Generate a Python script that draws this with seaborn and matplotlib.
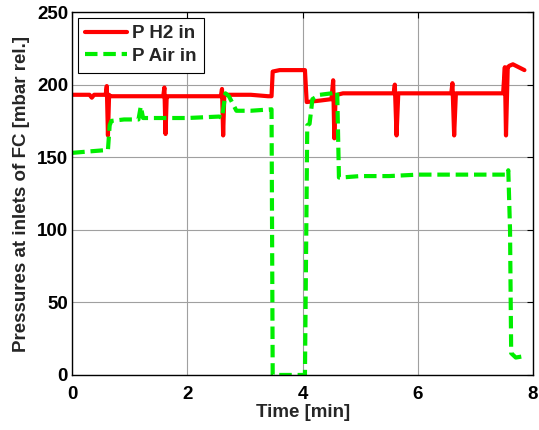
import numpy as np
import pandas as pd
import seaborn as sns
import matplotlib.pyplot as plt

# P H2 in (red) - breakpoints
h2_t = [0.00, 0.30, 0.34, 0.38, 0.58, 0.60, 0.62, 0.64, 0.66, 1.00, 1.30, 1.58, 1.60, 1.62, 1.64, 1.66,
        2.00, 2.40, 2.58, 2.60, 2.62, 2.64, 2.66, 2.80, 3.10, 3.40, 3.46, 3.48, 3.60, 3.90, 4.04, 4.07,
        4.30, 4.50, 4.53, 4.55, 4.57, 4.60, 4.70, 5.00, 5.58, 5.60, 5.63, 5.66, 6.00, 6.30, 6.58, 6.60,
        6.63, 6.66, 7.00, 7.48, 7.51, 7.53, 7.56, 7.59, 7.65, 7.75, 7.85]
h2_p = [193, 193, 191, 193, 193, 199, 165, 193, 192, 192, 192, 192, 198, 166, 192, 192,
        192, 192, 192, 197, 165, 193, 193, 193, 193, 192, 192, 209, 210, 210, 210, 188,
        189, 190, 203, 163, 190, 193, 194, 194, 194, 200, 165, 194, 194, 194, 194, 201,
        165, 194, 194, 194, 212, 165, 212, 213, 214, 212, 210]

# P Air in (green)
air_t = [0.00, 0.30, 0.62, 0.65, 0.68, 0.90, 1.15, 1.19, 1.23, 1.50, 2.00, 2.55, 2.60, 2.66, 2.72,
         2.85, 3.10, 3.46, 3.48, 3.60, 3.90, 4.04, 4.08, 4.12, 4.17, 4.30, 4.50, 4.60, 4.63, 4.66,
         5.00, 5.50, 6.00, 6.50, 7.00, 7.55, 7.57, 7.60, 7.62, 7.70, 7.85]
air_p = [153, 154, 155, 172, 175, 176, 176, 185, 177, 177, 177, 178, 177, 194, 192,
         182, 182, 183, 0, 0, 0, 0, 172, 173, 190, 193, 194, 195, 136, 136,
         137, 137, 138, 138, 138, 138, 141, 100, 15, 12, 13]

df = pd.concat([
    pd.DataFrame({"t": h2_t, "p": h2_p, "series": "P H2 in"}),
    pd.DataFrame({"t": air_t, "p": air_p, "series": "P Air in"}),
])

sns.set_style("whitegrid")
plt.rcParams['font.family'] = ['Liberation Sans', 'DejaVu Sans']
plt.rcParams['font.weight'] = 'bold'
fs = 13.5

fig = plt.figure(figsize=(5.39, 4.30), dpi=100)
ax = fig.add_axes([0.134, 0.128, 0.855, 0.844])

sns.lineplot(data=df, x="t", y="p", hue="series", style="series",
             palette={"P H2 in": "#ff0000", "P Air in": "#00ee00"},
             dashes={"P H2 in": "", "P Air in": (3, 1.4)},
             linewidth=3, sort=False, estimator=None, ax=ax)

ax.set_xlim(0, 8)
ax.set_ylim(0, 250)
ax.set_xticks([0, 2, 4, 6, 8])
ax.set_yticks([0, 50, 100, 150, 200, 250])
ax.grid(True, color="#a0a0a0", linewidth=0.8)
ax.set_facecolor("white")
for s in ax.spines.values():
    s.set_color("black")
    s.set_linewidth(1.0)
ax.tick_params(direction="in", length=4, width=0.8, top=True, right=True,
               labelsize=fs, colors="black", pad=3)
ax.tick_params(axis="x", pad=8)
for lab in ax.get_xticklabels() + ax.get_yticklabels():
    lab.set_fontweight("bold")

ax.set_xlabel("Time [min]", fontsize=fs, fontweight="bold", labelpad=1)
ax.set_ylabel("Pressures at inlets of FC [mbar rel.]", fontsize=fs, fontweight="bold", labelpad=5)

leg = ax.legend(loc="upper left", handlelength=2.2, handletextpad=0.3, frameon=True,
                fancybox=False, borderaxespad=0.3, borderpad=0.4, labelspacing=0.3,
                title=None, prop={"weight": "bold", "size": fs})
leg.get_frame().set_edgecolor("black")
leg.get_frame().set_linewidth(0.8)
leg.get_frame().set_alpha(1)

fig.savefig("out.png", dpi=100)
